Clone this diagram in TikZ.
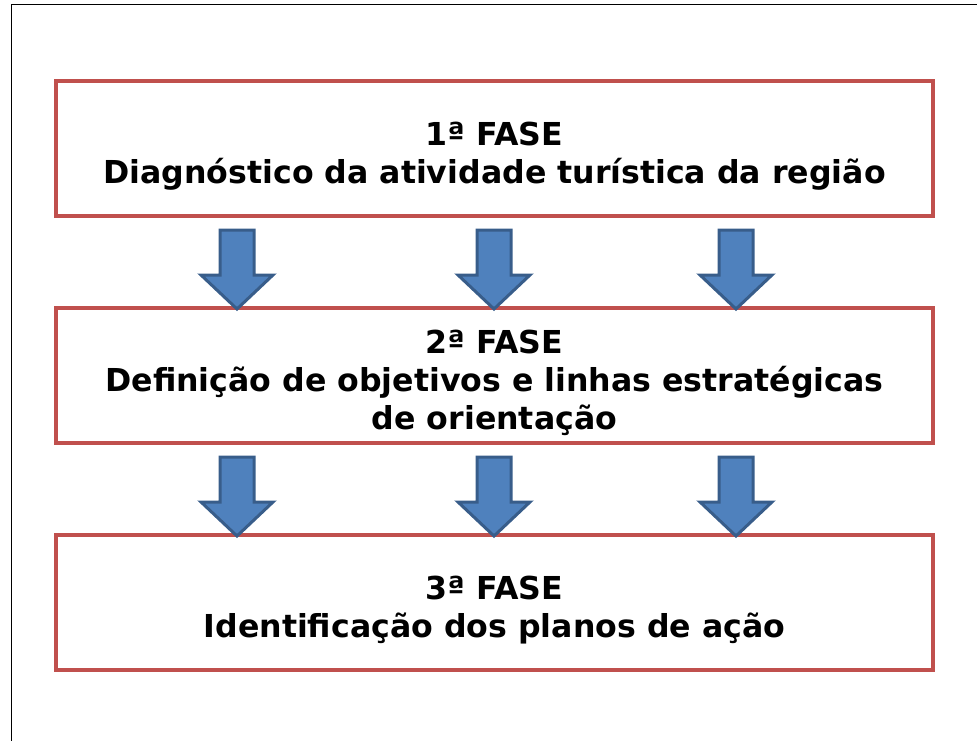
\documentclass[tikz,border=0pt]{standalone}
\usepackage{fontspec}
\setmainfont{DejaVu Sans}
\usepackage{tikz}
\usetikzlibrary{positioning}

\definecolor{faseRed}{HTML}{C0504D}
\definecolor{setaBlue}{HTML}{4F81BD}
\definecolor{setaEdge}{HTML}{385D8A}

\newcommand{\faseStrut}{\rule{0pt}{39pt}}

\tikzset{
  fasebox/.style={draw=faseRed, line width=4pt, minimum width=877pt, minimum height=135pt,
    align=center, font=\fontsize{31.6}{38}\selectfont\bfseries, inner sep=0pt},
  seta/.style={fill=setaBlue, draw=setaEdge, line width=3pt, line join=miter}
}

\begin{document}
\begin{tikzpicture}[x=1pt, y=-1pt]
  \useasboundingbox (0,0) rectangle (977,741);
  % outer frame
  \draw [line width=1pt] (11,741) -- (11,5) -- (977,5);
  % phases
  \node [fasebox] (fase1) at (494.5,148.5) {\faseStrut 1ª FASE\\Diagnóstico da atividade turística da região};
  \node [fasebox] (fase2) at (494.5,375) {\faseStrut 2ª FASE\\Definição de objetivos e linhas estratégicas\\de orientação};
  \node [fasebox] (fase3) at (494.5,602.5) {\faseStrut 3ª FASE\\Identificação dos planos de ação};
  % block arrows
  \foreach \y in {230,457} {
    \foreach \x in {237,494,736} {
      \draw [seta] (\x-17,\y) -- (\x+17,\y) -- (\x+17,\y+45) -- (\x+36,\y+45)
        -- (\x,\y+79) -- (\x-36,\y+45) -- (\x-17,\y+45) -- cycle;
    }
  }
\end{tikzpicture}
\end{document}
